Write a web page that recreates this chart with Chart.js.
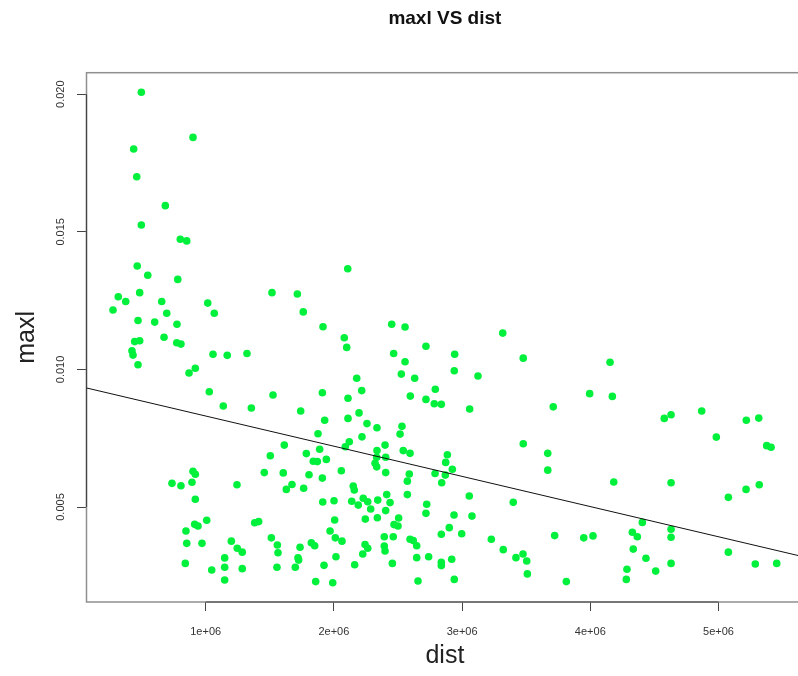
<!DOCTYPE html>
<html>
<head>
<meta charset="utf-8">
<title>maxl VS dist</title>
<script src="https://cdn.jsdelivr.net/npm/chart.js@4.4.1/dist/chart.umd.min.js"></script>
<style>
  html, body { margin: 0; padding: 0; background: #fff; overflow: hidden; }
  #wrap { width: 820px; height: 676px; }
</style>
</head>
<body>
<div id="wrap"><canvas id="plot" width="820" height="676"></canvas></div>
<script>
// distance per observation
const dist = [
  498000, 901000, 438000, 462000, 685000, 498000, 802000, 852000, 466000, 548000,
  782000, 485000, 318000, 376000, 657000, 1016000, 1517000, 1715000, 277000, 696000,
  1067000, 1761000, 472000, 602000, 776000, 1915000,
  446000, 485000, 425000, 433000, 472000, 675000, 774000, 807000, 1057000, 1168000,
  1322000, 919000, 870000, 1028000, 1137000, 1356000, 1525000, 1741000, 1910000, 1928000,
  1876000, 1613000, 1504000, 1785000, 1889000, 1839000, 1871000, 1941000, 1457000, 1605000,
  1806000, 1910000, 901000, 919000, 737000, 807000, 893000, 1244000, 1673000, 1629000,
  1764000, 919000, 1913000, 1382000, 1413000, 1008000, 914000, 940000, 846000, 852000,
  971000, 1200000, 1512000, 1559000, 1246000, 1285000, 1564000, 1736000, 1824000, 1850000,
  1148000, 1720000, 1725000, 841000, 1148000, 1285000, 1047000, 1556000, 1699000, 1923000,
  1148000, 1858000,
  2108000, 2451000, 2555000, 2081000, 2100000, 3317000, 2718000, 2466000, 2555000, 2942000,
  3477000, 2939000, 2526000, 2630000, 2178000, 3124000, 2217000, 2791000, 2596000, 2110000,
  2718000, 2783000, 2838000, 3059000, 3711000, 2110000, 2196000, 2258000, 2336000, 2531000,
  2516000, 2219000, 2120000, 2089000, 2399000, 2336000, 2541000, 2594000, 2885000, 3477000,
  3668000, 3668000, 2334000, 2404000, 2321000, 2334000, 2404000, 2058000, 2872000, 2924000,
  2789000, 2869000, 2588000, 2573000, 2841000, 2151000, 2159000, 2573000, 2412000, 3056000,
  3399000, 2001000, 2139000, 2190000, 2229000, 2264000, 2342000, 2438000, 2287000, 2404000,
  2724000, 2718000, 2937000, 3077000, 2245000, 2339000, 2505000, 2006000, 2469000, 2500000,
  2900000, 1970000, 2838000, 2997000, 2011000, 2063000, 2393000, 2463000, 2594000, 2619000,
  2646000, 3722000, 3228000, 2243000, 2264000, 2393000, 2399000, 2225000, 3321000, 3420000,
  3475000, 3504000, 3509000, 2016000, 2646000, 2739000, 2838000, 2838000, 2919000, 2456000,
  2162000, 1991000, 2656000, 2939000,
  4154000, 3995000, 4172000, 4577000, 4630000, 4869000, 5217000, 5314000, 4983000, 5376000,
  5410000, 4183000, 4630000, 5077000, 5215000, 5318000, 3949000, 4021000, 4406000, 4328000,
  4367000, 4630000, 4630000, 4335000, 4434000, 4630000, 5077000, 5287000, 5454000, 4286000,
  4510000, 4281000, 3813000
];

// maxl per observation, same order as dist
const maxl = [
  0.02007, 0.01843, 0.01801, 0.01700, 0.01595, 0.01525, 0.01473, 0.01467, 0.01376, 0.01342,
  0.01327, 0.01279, 0.01264, 0.01247, 0.01247, 0.01241, 0.01279, 0.01274, 0.01216, 0.01204,
  0.01204, 0.01209, 0.01178, 0.01172, 0.01164, 0.01155,
  0.01101, 0.01104, 0.01068, 0.01052, 0.01017, 0.01117, 0.01097, 0.01092, 0.01055, 0.01051,
  0.01058, 0.01004, 0.00987, 0.00919, 0.00867, 0.00860, 0.00907, 0.00849, 0.00915, 0.00815,
  0.00766, 0.00725, 0.00686, 0.00694, 0.00710, 0.00666, 0.00665, 0.00673, 0.00625, 0.00624,
  0.00617, 0.00605, 0.00630, 0.00619, 0.00586, 0.00577, 0.00590, 0.00581, 0.00582, 0.00564,
  0.00568, 0.00528, 0.00518, 0.00443, 0.00447, 0.00452, 0.00437, 0.00431, 0.00413, 0.00368,
  0.00368, 0.00376, 0.00388, 0.00362, 0.00350, 0.00336, 0.00334, 0.00354, 0.00370, 0.00359,
  0.00315, 0.00315, 0.00307, 0.00295, 0.00281, 0.00276, 0.00271, 0.00281, 0.00281, 0.00288,
  0.00235, 0.00229,
  0.01366, 0.01164, 0.01154, 0.01115, 0.01080, 0.01132, 0.01084, 0.01058, 0.01028, 0.01055,
  0.01041, 0.00995, 0.00983, 0.00968, 0.00968, 0.00976, 0.00923, 0.00928, 0.00903, 0.00895,
  0.00891, 0.00875, 0.00873, 0.00856, 0.00864, 0.00822, 0.00842, 0.00803, 0.00788, 0.00793,
  0.00765, 0.00755, 0.00737, 0.00719, 0.00725, 0.00705, 0.00705, 0.00695, 0.00690, 0.00730,
  0.00695, 0.00634, 0.00681, 0.00681, 0.00659, 0.00646, 0.00625, 0.00632, 0.00662, 0.00637,
  0.00622, 0.00616, 0.00620, 0.00594, 0.00588, 0.00576, 0.00562, 0.00545, 0.00545, 0.00540,
  0.00517, 0.00523, 0.00521, 0.00507, 0.00532, 0.00519, 0.00525, 0.00516, 0.00493, 0.00487,
  0.00510, 0.00477, 0.00471, 0.00467, 0.00456, 0.00461, 0.00460, 0.00453, 0.00436, 0.00431,
  0.00425, 0.00413, 0.00401, 0.00403, 0.00388, 0.00376, 0.00392, 0.00392, 0.00383, 0.00378,
  0.00359, 0.00396, 0.00383, 0.00364, 0.00350, 0.00358, 0.00340, 0.00329, 0.00345, 0.00316,
  0.00329, 0.00304, 0.00257, 0.00319, 0.00316, 0.00319, 0.00299, 0.00287, 0.00310, 0.00295,
  0.00290, 0.00225, 0.00231, 0.00237,
  0.01026, 0.00912, 0.00902, 0.00822, 0.00835, 0.00849, 0.00815, 0.00823, 0.00754, 0.00723,
  0.00717, 0.00591, 0.00588, 0.00535, 0.00564, 0.00581, 0.00388, 0.00395, 0.00444, 0.00408,
  0.00392, 0.00419, 0.00390, 0.00347, 0.00314, 0.00295, 0.00336, 0.00293, 0.00295, 0.00274,
  0.00267, 0.00237, 0.00229
];

const xTicks = [1e6, 2e6, 3e6, 4e6, 5e6];
const xTickLabels = ['1e+06', '2e+06', '3e+06', '4e+06', '5e+06'];
const yTicks = [0.005, 0.010, 0.015, 0.020];
const yTickLabels = ['0.005', '0.010', '0.015', '0.020'];

// axis limits (data range plus 4% each side)
const xRange = [70200, 5661500];
const yRange = [0.001548, 0.020782];

// least squares line maxl ~ dist
const fitIntercept = 0.009403;
const fitSlope = -1.097e-9;

const FONT = "'Liberation Sans', Arial, sans-serif";
const POINT_GREEN = '#00f03c';

// frame around the plot region plus darker axis segments between end ticks
const plotFrame = {
  id: 'plotFrame',
  beforeDatasetsDraw(chart) {
    const { ctx, chartArea: a, scales } = chart;
    ctx.save();
    ctx.strokeStyle = '#8f8f8f';
    ctx.lineWidth = 1.5;
    ctx.strokeRect(a.left, a.top, a.right - a.left, a.bottom - a.top);

    ctx.strokeStyle = '#444';
    ctx.lineWidth = 1.2;
    const x0 = scales.x.getPixelForValue(xTicks[0]);
    const x1 = scales.x.getPixelForValue(xTicks[xTicks.length - 1]);
    const y0 = scales.y.getPixelForValue(yTicks[0]);
    const y1 = scales.y.getPixelForValue(yTicks[yTicks.length - 1]);
    ctx.beginPath();
    ctx.moveTo(x0, a.bottom);
    ctx.lineTo(x1, a.bottom);
    ctx.moveTo(a.left, y0);
    ctx.lineTo(a.left, y1);
    ctx.stroke();
    ctx.restore();
  }
};

const points = dist.map((d, i) => ({ x: d, y: maxl[i] }));
const fitLine = xRange.map(x => ({ x: x, y: fitIntercept + fitSlope * x }));

new Chart(document.getElementById('plot'), {
  type: 'scatter',
  data: {
    datasets: [
      {
        type: 'line',
        data: fitLine,
        borderColor: '#111',
        borderWidth: 1,
        pointRadius: 0,
        fill: false,
        order: 0
      },
      {
        data: points,
        backgroundColor: POINT_GREEN,
        borderWidth: 0,
        pointRadius: 3.8,
        order: 1
      }
    ]
  },
  options: {
    responsive: false,
    animation: false,
    layout: { padding: { left: 0, right: 16.7, top: 0, bottom: 0 } },
    plugins: {
      legend: { display: false },
      tooltip: { enabled: false },
      title: {
        display: true,
        text: 'maxl VS dist',
        fullSize: false,
        color: '#111',
        font: { family: FONT, size: 19, weight: 'bold' },
        padding: { top: 7, bottom: 42.9 }
      }
    },
    scales: {
      x: {
        type: 'linear',
        min: xRange[0],
        max: xRange[1],
        afterBuildTicks: scale => { scale.ticks = xTicks.map(v => ({ value: v })); },
        afterFit: scale => { scale.height = 74; },
        border: { display: false },
        grid: { drawOnChartArea: false, drawTicks: true, tickLength: 9, color: '#444', lineWidth: 1 },
        ticks: {
          autoSkip: false,
          maxRotation: 0,
          padding: 14.4,
          color: '#333',
          font: { family: FONT, size: 11 },
          callback: (v, i) => xTickLabels[i]
        },
        title: {
          display: true,
          text: 'dist',
          color: '#222',
          font: { family: FONT, size: 25 },
          padding: { top: 0, bottom: 5 }
        }
      },
      y: {
        type: 'linear',
        min: yRange[0],
        max: yRange[1],
        afterBuildTicks: scale => { scale.ticks = yTicks.map(v => ({ value: v })); },
        afterFit: scale => { scale.width = 86.5; },
        border: { display: false },
        grid: { drawOnChartArea: false, drawTicks: true, tickLength: 9.5, color: '#444', lineWidth: 1 },
        ticks: {
          autoSkip: false,
          minRotation: 90,
          maxRotation: 90,
          crossAlign: 'center',
          padding: 2.3,
          color: '#333',
          font: { family: FONT, size: 11 },
          callback: (v, i) => yTickLabels[i]
        },
        title: {
          display: true,
          text: 'maxl',
          color: '#222',
          font: { family: FONT, size: 25 },
          padding: { top: 12.5, bottom: 0 }
        }
      }
    }
  },
  plugins: [plotFrame]
});
</script>
</body>
</html>
